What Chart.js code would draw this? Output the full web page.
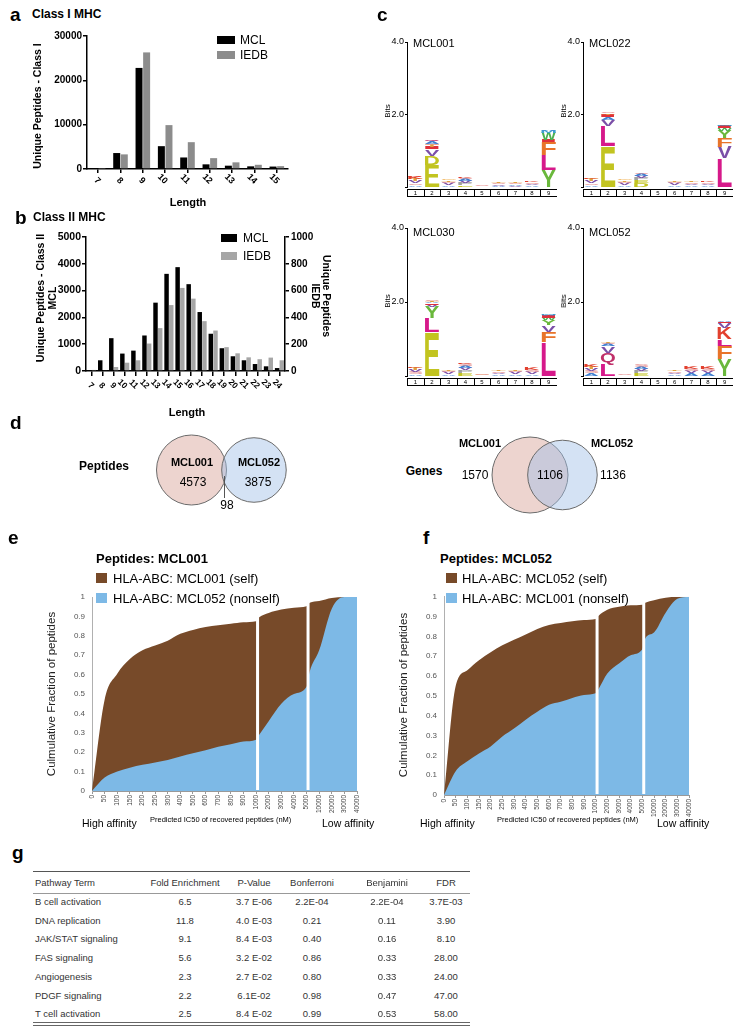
<!DOCTYPE html>
<html><head><meta charset="utf-8">
<script src="https://cdn.jsdelivr.net/npm/chart.js@4.4.0/dist/chart.umd.min.js"></script>
<style>
body{margin:0;background:#fff;}
#root{position:relative;width:743px;height:1030px;overflow:hidden;font-family:"Liberation Sans",Arial,Helvetica,sans-serif;color:#000;background:#fff;}
.t{position:absolute;white-space:nowrap;line-height:1;}
canvas{position:absolute;}
.bx{position:absolute;}
</style></head><body><div id="root"></div>
<script>
// ================= DATA =================
const lengthsI = ['7','8','9','10','11','12','13','14','15'];
const mclI  = [50, 3600, 22800, 5150, 2600, 1050, 750, 600, 550];
const iedbI = [100, 3300, 26300, 9900, 6050, 2450, 1500, 950, 650];

const lengthsII = ['7','8','9','10','11','12','13','14','15','16','17','18','19','20','21','22','23','24'];
const mclII  = [20, 400, 1225, 650, 760, 1325, 2550, 3625, 3875, 3240, 2200, 1390, 850, 550, 400, 260, 175, 110];
const iedbII = [8, 6, 30, 62, 80, 205, 320, 492, 620, 540, 372, 302, 178, 132, 102, 88, 100, 80];

const logoPositions = ['1','2','3','4','5','6','7','8','9'];
const logoMCL001 = [
  [['A',.06],['S',.05],['V',.06],['T',.05],['K',.05],['R',.04]],
  [['E',.62],['D',.24],['V',.18],['I',.07],['T',.05],['S',.04],['A',.05],['Q',.04]],
  [['A',.05],['V',.05],['S',.04],['T',.04],['G',.03]],
  [['E',.06],['P',.05],['V',.05],['A',.05],['S',.04],['K',.04]],
  [['G',.02],['S',.015]],
  [['A',.04],['V',.03],['S',.03],['T',.03]],
  [['V',.04],['A',.04],['S',.03],['T',.02]],
  [['A',.05],['V',.04],['S',.04],['K',.04]],
  [['Y',.46],['L',.42],['F',.37],['I',.05],['W',.2],['M',.05],['A',.03]]
];
const logoMCL022 = [
  [['A',.06],['S',.05],['V',.05],['T',.05],['K',.04]],
  [['E',1.12],['L',.56],['V',.18],['A',.08],['I',.05],['T',.04],['S',.03]],
  [['A',.05],['V',.05],['S',.04],['T',.04],['G',.03]],
  [['D',.1],['E',.08],['P',.07],['V',.06],['A',.05],['S',.04]],
  [['G',.02],['S',.01]],
  [['A',.05],['V',.05],['S',.04],['T',.04]],
  [['A',.05],['V',.04],['S',.04],['T',.03]],
  [['A',.05],['V',.04],['S',.04],['K',.03]],
  [['L',.8],['V',.3],['F',.25],['Y',.2],['W',.08],['I',.05],['M',.04]]
];
const logoMCL030 = [
  [['A',.06],['S',.05],['V',.05],['T',.05],['K',.04]],
  [['E',1.2],['L',.37],['Y',.3],['V',.06],['I',.04],['A',.04],['T',.03],['S',.03]],
  [['A',.05],['V',.05],['S',.04],['T',.04]],
  [['E',.08],['P',.07],['V',.07],['A',.06],['S',.05],['K',.04]],
  [['G',.03],['S',.02]],
  [['A',.05],['V',.04],['S',.04],['T',.03]],
  [['A',.05],['V',.05],['S',.04],['T',.03]],
  [['A',.06],['V',.06],['S',.05],['K',.05]],
  [['L',.92],['F',.28],['V',.17],['Y',.14],['W',.06],['I',.06],['A',.03],['M',.02]]
];
const logoMCL052 = [
  [['A',.07],['S',.06],['V',.06],['T',.06],['K',.05]],
  [['L',.32],['Q',.3],['V',.18],['A',.06],['S',.04],['T',.03]],
  [['A',.02],['S',.02],['G',.01]],
  [['E',.07],['P',.06],['V',.06],['A',.06],['S',.05]],
  [['G',.02],['S',.01]],
  [['A',.05],['V',.04],['S',.04],['T',.03]],
  [['A',.07],['V',.06],['S',.06],['K',.05]],
  [['A',.07],['V',.06],['S',.06],['K',.05]],
  [['Y',.46],['F',.36],['L',.18],['K',.3],['V',.13],['I',.04],['A',.03]]
];

const vennPepOnly = [4573, 3875];
const vennPepBoth = 98;
const vennGeneOnly = [1570, 1136];
const vennGeneBoth = 1106;

const icLabels = ['0','50','100','150','200','250','300','400','500','600','700','800','900','1000','2000','3000','4000','5000','10000','20000','30000','40000'];
const gapAfter = [13, 17];
const selfE     = [0, 0.47, 0.605, 0.68, 0.725, 0.75, 0.775, 0.81, 0.83, 0.845, 0.855, 0.862, 0.87, 0.875, 0.918, 0.935, 0.945, 0.952, 0.98, 0.995, 1, 1];
const selfEGap  = [0.895, 0.97];
const nonselfE  = [0, 0.069, 0.10, 0.12, 0.135, 0.147, 0.16, 0.178, 0.195, 0.21, 0.228, 0.241, 0.255, 0.264, 0.36, 0.45, 0.50, 0.537, 0.725, 0.94, 1, 1];
const nonselfEGap = [0.29, 0.615];
const selfF     = [0, 0.55, 0.63, 0.68, 0.72, 0.755, 0.783, 0.81, 0.838, 0.858, 0.868, 0.877, 0.883, 0.888, 0.935, 0.95, 0.957, 0.96, 0.983, 0.995, 1, 1];
const selfFGap  = [0.905, 0.97];
const nonselfF  = [0, 0.12, 0.17, 0.21, 0.245, 0.295, 0.335, 0.38, 0.42, 0.455, 0.47, 0.49, 0.505, 0.513, 0.613, 0.663, 0.705, 0.735, 0.82, 0.92, 0.99, 1];
const nonselfFGap = [0.535, 0.79];

const tableHeader = ['Pathway Term','Fold Enrichment','P-Value','Bonferroni','Benjamini','FDR'];
const pathwayTerms = ['B cell activation','DNA replication','JAK/STAT signaling','FAS signaling','Angiogenesis','PDGF signaling','T cell activation'];
const foldEnrichment = ['6.5','11.8','9.1','5.6','2.3','2.2','2.5'];
const pValues = ['3.7 E-06','4.0 E-03','8.4 E-03','3.2 E-02','2.7 E-02','6.1E-02','8.4 E-02'];
const bonferroni = ['2.2E-04','0.21','0.40','0.86','0.80','0.98','0.99'];
const benjamini = ['2.2E-04','0.11','0.16','0.33','0.33','0.47','0.53'];
const fdr = ['3.7E-03','3.90','8.10','28.00','24.00','47.00','58.00'];

// ================= HELPERS =================
const FONT = '"Liberation Sans", Arial, Helvetica, sans-serif';
Chart.defaults.font.family = FONT;
Chart.defaults.color = '#000';
const root = document.getElementById('root');
const plain = v => String(v);

function mkCanvas(left, top, w, h){
  const c = document.createElement('canvas');
  c.width = w; c.height = h;
  c.style.left = left+'px'; c.style.top = top+'px';
  c.style.width = w+'px'; c.style.height = h+'px';
  root.appendChild(c); return c;
}
function txt(s, x, y, o={}){
  const d = document.createElement('div');
  d.className = 't'; d.textContent = s;
  d.style.left = x+'px'; d.style.top = y+'px';
  d.style.fontSize = (o.size||12)+'px';
  if (o.bold) d.style.fontWeight = 'bold';
  if (o.color) d.style.color = o.color;
  const ax = o.align==='center' ? '-50%' : o.align==='right' ? '-100%' : '0';
  d.style.transform = `translate(${ax},-50%)` + (o.rot ? ` rotate(${o.rot}deg)` : '');
  root.appendChild(d); return d;
}
function box(x, y, w, h, color){
  const d = document.createElement('div');
  d.className = 'bx';
  Object.assign(d.style, {left:x+'px', top:y+'px', width:w+'px', height:h+'px', background:color});
  root.appendChild(d);
}
function base(extra){
  return Object.assign({responsive:false, animation:false, devicePixelRatio:1, events:[],
    plugins:{legend:{display:false}, tooltip:{enabled:false}}}, extra);
}
function diagLabels(dy, size){
  return {id:'diag', afterDraw(chart){
    const ctx = chart.ctx, xs = chart.scales.x, bottom = chart.chartArea.bottom;
    ctx.save();
    ctx.font = `bold ${size}px ${FONT}`; ctx.fillStyle = '#000';
    ctx.textAlign = 'right'; ctx.textBaseline = 'middle';
    chart.data.labels.forEach((lab, i) => {
      const x = xs.getPixelForTick(i);
      ctx.save(); ctx.translate(x + 1, bottom + dy); ctx.rotate(Math.PI/4);
      ctx.fillText(lab, 0, 0); ctx.restore();
    });
    ctx.restore();
  }};
}

// ================= PANEL A =================
new Chart(mkCanvas(0, 25, 370, 185), {
  type:'bar',
  data:{labels:lengthsI, datasets:[
    {data:mclI, backgroundColor:'#000', barPercentage:0.92, categoryPercentage:0.68},
    {data:iedbI, backgroundColor:'#8c8c8c', barPercentage:0.92, categoryPercentage:0.68}
  ]},
  options: base({layout:{padding:{top:11, right:82, left:0, bottom:0}},
    scales:{
      x:{ticks:{display:false}, grid:{offset:false, drawOnChartArea:false, tickLength:4, color:'#000', lineWidth:1.5}, border:{color:'#000', width:1.5}, afterFit:s=>{s.height=41;}},
      y:{min:0, max:30000, ticks:{stepSize:10000, padding:1, font:{size:10, weight:'bold'}, color:'#000', callback:plain}, grid:{drawOnChartArea:false, tickLength:4, color:'#000', lineWidth:1.5}, border:{color:'#000', width:1.5}, afterFit:s=>{s.width=87;}}
    }}),
  plugins:[diagLabels(13.5, 9)]
});

// ================= PANEL B =================
new Chart(mkCanvas(0, 215, 370, 200), {
  type:'bar',
  data:{labels:lengthsII, datasets:[
    {data:mclII, yAxisID:'y', backgroundColor:'#000', barPercentage:0.95, categoryPercentage:0.85},
    {data:iedbII, yAxisID:'y1', backgroundColor:'#a6a6a6', barPercentage:0.95, categoryPercentage:0.85}
  ]},
  options: base({layout:{padding:{top:22, right:0, left:0, bottom:0}},
    scales:{
      x:{ticks:{display:false}, grid:{offset:false, drawOnChartArea:false, tickLength:5, color:'#000', lineWidth:1.5}, border:{color:'#000', width:1.5}, afterFit:s=>{s.height=44;}},
      y:{position:'left', min:0, max:5000, ticks:{stepSize:1000, padding:1, font:{size:10.5, weight:'bold'}, color:'#000', callback:plain}, grid:{drawOnChartArea:false, tickLength:4, color:'#000', lineWidth:1.5}, border:{color:'#000', width:1.5}, afterFit:s=>{s.width=86;}},
      y1:{position:'right', min:0, max:1000, ticks:{stepSize:200, padding:2, font:{size:10, weight:'bold'}, color:'#000', callback:plain}, grid:{drawOnChartArea:false, tickLength:4, color:'#000', lineWidth:1.5}, border:{color:'#000', width:1.5}, afterFit:s=>{s.width=85;}}
    }}),
  plugins:[diagLabels(16.5, 8.5)]
});

// ================= PANEL C (logos) =================
const aaColors = {A:'#3f7fd0', V:'#7b4fa8', I:'#e0303a', L:'#d6198a', M:'#3fa0d0', F:'#e8742a', W:'#4cb050', Y:'#6ab83c',
  E:'#c2c420', D:'#c2c420', K:'#e2402e', R:'#e2402e', S:'#e89a9a', T:'#e0a040', P:'#a0a0a0', Q:'#c0306a', G:'#f0b050', N:'#b06090', H:'#5060c0', C:'#e0c020'};
function drawLetter(ctx, ch, left, top, w, h, color){
  ctx.save();
  ctx.font = `bold 100px ${FONT}`;
  const m = ctx.measureText(ch);
  const gw = m.actualBoundingBoxLeft + m.actualBoundingBoxRight;
  const gh = m.actualBoundingBoxAscent + m.actualBoundingBoxDescent;
  ctx.translate(left, top);
  ctx.scale(w/gw, h/gh);
  ctx.fillStyle = color;
  ctx.textAlign = 'left'; ctx.textBaseline = 'alphabetic';
  ctx.fillText(ch, m.actualBoundingBoxLeft, m.actualBoundingBoxAscent);
  ctx.restore();
}
const letterPlugin = {id:'letters', afterDatasetsDraw(chart){
  const ctx = chart.ctx;
  chart.data.datasets.forEach((ds, di) => {
    chart.getDatasetMeta(di).data.forEach((bar, i) => {
      const ch = ds.letters[i]; if (!ch) return;
      const h = bar.base - bar.y; if (h < 0.3) return;
      drawLetter(ctx, ch, bar.x - bar.width/2, bar.y, bar.width, h, aaColors[ch] || '#888');
    });
  });
}};
const posBoxPlugin = {id:'posbox', afterDraw(chart){
  const {ctx, chartArea:ca, scales:{x}} = chart;
  const top = Math.round(ca.bottom) + 2, h = 7;
  ctx.save(); ctx.strokeStyle = '#000'; ctx.lineWidth = 1;
  ctx.strokeRect(Math.round(ca.left)+0.5, top+0.5, Math.round(ca.right-ca.left), h);
  ctx.font = `6px ${FONT}`; ctx.fillStyle = '#000'; ctx.textAlign = 'center'; ctx.textBaseline = 'middle';
  const n = chart.data.labels.length;
  for (let i = 0; i < n; i++){
    const cx = x.getPixelForValue(i);
    if (i > 0){
      const bx = Math.round((x.getPixelForValue(i-1)+cx)/2)+0.5;
      ctx.beginPath(); ctx.moveTo(bx, top); ctx.lineTo(bx, top+h); ctx.stroke();
    }
    ctx.fillText(chart.data.labels[i], cx, top + h/2 + 1);
  }
  ctx.restore();
}};
function logoDatasets(stacks){
  const layers = Math.max(...stacks.map(s => s.length));
  const ds = [];
  for (let k = 0; k < layers; k++){
    ds.push({data: stacks.map(s => s[k] ? s[k][1] : 0), letters: stacks.map(s => s[k] ? s[k][0] : null),
      backgroundColor:'rgba(0,0,0,0)', borderWidth:0, barPercentage:0.9, categoryPercentage:0.95, stack:'logo'});
  }
  return ds;
}
function makeLogo(stacks, areaLeft, areaTop, areaH){
  const w = 182, padTop = 17, padBottom = 14;
  new Chart(mkCanvas(areaLeft - 32, areaTop - padTop, w, padTop + areaH + padBottom), {
    type:'bar',
    data:{labels:logoPositions, datasets:logoDatasets(stacks)},
    options: base({layout:{padding:{top:padTop, bottom:padBottom, right:w - 32 - 150, left:0}},
      scales:{
        x:{display:false, stacked:true},
        y:{stacked:true, min:0, max:4, ticks:{stepSize:2, padding:1, font:{size:9}, color:'#000', callback:v => v === 0 ? '' : v.toFixed(1)},
           grid:{drawOnChartArea:false, tickLength:2, color:'#000'}, border:{color:'#000', width:1}, afterFit:s=>{s.width=32;}}
      }}),
    plugins:[letterPlugin, posBoxPlugin]
  });
}
makeLogo(logoMCL001, 407, 42, 145);
makeLogo(logoMCL022, 583, 42, 145);
makeLogo(logoMCL030, 407, 228, 148);
makeLogo(logoMCL052, 583, 228, 148);

// ================= PANEL D (Venn) =================
function lensArea(r1, r2, d){
  if (d >= r1 + r2) return 0;
  if (d <= Math.abs(r1 - r2)) return Math.PI * Math.min(r1, r2) ** 2;
  const a = r1*r1*Math.acos((d*d + r1*r1 - r2*r2)/(2*d*r1));
  const b = r2*r2*Math.acos((d*d + r2*r2 - r1*r1)/(2*d*r2));
  const c = 0.5*Math.sqrt((-d+r1+r2)*(d+r1-r2)*(d-r1+r2)*(d+r1+r2));
  return a + b - c;
}
function solveD(r1, r2, target){
  let lo = Math.abs(r1 - r2), hi = r1 + r2;
  for (let i = 0; i < 60; i++){ const mid = (lo+hi)/2; if (lensArea(r1, r2, mid) > target) lo = mid; else hi = mid; }
  return (lo + hi)/2;
}
function venn(left, top, w, h, cx, cy, rLeft, only, both, extra){
  const t1 = only[0] + both, t2 = only[1] + both;
  const k = rLeft / Math.sqrt(t1);
  const r1 = rLeft, r2 = k * Math.sqrt(t2);
  const d = solveD(r1, r2, k*k*Math.PI*both);
  return new Chart(mkCanvas(left, top, w, h), {
    type:'bubble',
    data:{datasets:[
      {data:[{x:cx + d, y:cy, r:r2}], backgroundColor:'rgba(160,190,230,0.45)', borderColor:'#6a6a6a', borderWidth:1, clip:false},
      {data:[{x:cx, y:cy, r:r1}], backgroundColor:'rgba(220,170,160,0.5)', borderColor:'#6a6a6a', borderWidth:1, clip:false}
    ]},
    options: base({layout:{padding:0, autoPadding:false}, scales:{
      x:{type:'linear', min:0, max:w, display:false},
      y:{type:'linear', min:0, max:h, reverse:true, display:false}}}),
    plugins: extra ? [extra(cx + (d*d + r1*r1 - r2*r2)/(2*d), cy)] : []
  });
}
const leader = (lx, cy) => ({id:'leader', afterDraw(chart){
  const ctx = chart.ctx, x = chart.scales.x.getPixelForValue(lx), y = chart.scales.y.getPixelForValue(cy);
  ctx.save(); ctx.strokeStyle = '#555'; ctx.lineWidth = 1;
  ctx.beginPath(); ctx.moveTo(Math.round(x)+0.5, y + 6); ctx.lineTo(Math.round(x)+0.5, y + 28); ctx.stroke(); ctx.restore();
}});
venn(140, 425, 170, 95, 51.5, 45, 35, vennPepOnly, vennPepBoth, leader);
venn(480, 425, 140, 100, 50, 50, 38, vennGeneOnly, vennGeneBoth, null);

// ================= PANELS E / F =================
function pts(vals, gapVals){
  const out = [];
  vals.forEach((v, i) => {
    out.push({x:i, y:v});
    const g = gapAfter.indexOf(i);
    if (g >= 0) out.push({x:i + 0.25, y:gapVals[g]});
  });
  return out;
}
const gapPlugin = {id:'gaps', afterDatasetsDraw(chart){
  const {ctx, chartArea:ca, scales:{x}} = chart;
  ctx.save(); ctx.fillStyle = '#fff';
  gapAfter.forEach(i => { const px = x.getPixelForValue(i + 0.12); ctx.fillRect(px - 1.5, ca.top - 2, 3, ca.bottom - ca.top + 1); });
  ctx.restore();
}};
function fracChart(left, top, w, h, yW, padTop, padRight, xH, selfV, selfG, nonV, nonG){
  new Chart(mkCanvas(left, top, w, h), {
    type:'line',
    data:{datasets:[
      {data:pts(nonV, nonG), backgroundColor:'#7db9e6', borderColor:'rgba(0,0,0,0)', borderWidth:0, pointRadius:0, fill:'origin', cubicInterpolationMode:'monotone'},
      {data:pts(selfV, selfG), backgroundColor:'#774a29', borderColor:'rgba(0,0,0,0)', borderWidth:0, pointRadius:0, fill:'origin', cubicInterpolationMode:'monotone'}
    ]},
    options: base({layout:{padding:{top:padTop, right:padRight, left:0, bottom:0}},
      scales:{
        x:{type:'linear', min:0, max:icLabels.length - 1,
           ticks:{stepSize:1, autoSkip:false, minRotation:90, maxRotation:90, callback:v => icLabels[v] ?? '', font:{size:6.5}, color:'#444', padding:1},
           grid:{drawOnChartArea:false, tickLength:3, color:'#999'}, border:{color:'#999'}, afterFit:s=>{s.height=xH;}},
        y:{min:0, max:1, ticks:{stepSize:0.1, callback:v => v === 0 ? '0' : v === 1 ? '1' : v.toFixed(1), font:{size:8}, color:'#555', padding:7},
           grid:{drawOnChartArea:false, drawTicks:false}, border:{color:'#b0b0b0'}, afterFit:s=>{s.width=yW;}}
      }}),
    plugins:[gapPlugin]
  });
}
fracChart(0, 585, 370, 245, 92, 12, 13, 39, selfE, selfEGap, nonselfE, nonselfEGap);
fracChart(370, 585, 373, 245, 74, 10, 54, 35, selfF, selfFGap, nonselfF, nonselfFGap);

// ================= TEXT OVERLAYS =================
// panel a
txt('a', 10, 14, {size:19, bold:true});
txt('Class I MHC', 32, 14, {size:12, bold:true});
txt('Unique Peptides - Class I', 37, 106, {size:10.5, bold:true, align:'center', rot:-90});
box(217, 36, 18, 8, '#000'); txt('MCL', 240, 40, {size:12});
box(217, 51, 18, 8, '#8c8c8c'); txt('IEDB', 240, 55, {size:12});
txt('Length', 188, 202, {size:11, bold:true, align:'center'});
// panel b
txt('b', 15, 217, {size:19, bold:true});
txt('Class II MHC', 33, 217, {size:12, bold:true});
txt('Unique Peptides - Class II', 40, 298, {size:10.5, bold:true, align:'center', rot:-90});
txt('MCL', 52, 298, {size:10.5, bold:true, align:'center', rot:-90});
txt('Unique Peptides', 327, 296, {size:10.5, bold:true, align:'center', rot:90});
txt('IEDB', 316, 296, {size:10.5, bold:true, align:'center', rot:90});
box(221, 234, 16, 8, '#000'); txt('MCL', 243, 238, {size:12});
box(221, 252, 16, 8, '#a6a6a6'); txt('IEDB', 243, 256, {size:12});
txt('Length', 187, 412, {size:11, bold:true, align:'center'});
// panel c
txt('c', 377, 14, {size:19, bold:true});
[['MCL001',413,43],['MCL022',589,43],['MCL030',413,232],['MCL052',589,232]].forEach(a => txt(a[0], a[1], a[2], {size:11}));
[[388,111],[564,111],[388,301],[564,301]].forEach(a => txt('Bits', a[0], a[1], {size:8, align:'center', rot:-90}));
// panel d
txt('d', 10, 422, {size:19, bold:true});
txt('Peptides', 104, 466, {size:12, bold:true, align:'center'});
txt('MCL001', 192, 462, {size:11, bold:true, align:'center'});
txt(String(vennPepOnly[0]), 193, 482, {size:12, align:'center'});
txt('MCL052', 259, 462, {size:11, bold:true, align:'center'});
txt(String(vennPepOnly[1]), 258, 482, {size:12, align:'center'});
txt(String(vennPepBoth), 227, 505, {size:12, align:'center'});
txt('Genes', 424, 471, {size:12, bold:true, align:'center'});
txt('MCL001', 480, 443, {size:11, bold:true, align:'center'});
txt('MCL052', 612, 443, {size:11, bold:true, align:'center'});
txt(String(vennGeneOnly[0]), 475, 475, {size:12, align:'center'});
txt(String(vennGeneBoth), 550, 475, {size:12, align:'center'});
txt(String(vennGeneOnly[1]), 613, 475, {size:12, align:'center'});
// panel e
txt('e', 8, 537, {size:19, bold:true});
txt('Peptides: MCL001', 96, 558, {size:13, bold:true});
box(96, 573, 11, 10, '#774a29'); txt('HLA-ABC: MCL001 (self)', 113, 578, {size:13});
box(96, 593, 11, 10, '#7db9e6'); txt('HLA-ABC: MCL052 (nonself)', 113, 598, {size:13});
txt('Culmulative Fraction of peptides', 52, 694, {size:11.5, align:'center', rot:-90, color:'#222'});
txt('High affinity', 82, 823, {size:10.5});
txt('Predicted IC50 of recovered peptides (nM)', 150, 820, {size:7.5});
txt('Low affinity', 322, 823, {size:10.5});
// panel f
txt('f', 423, 537, {size:19, bold:true});
txt('Peptides: MCL052', 440, 558, {size:13, bold:true});
box(446, 573, 11, 10, '#774a29'); txt('HLA-ABC: MCL052 (self)', 462, 578, {size:13});
box(446, 593, 11, 10, '#7db9e6'); txt('HLA-ABC: MCL001 (nonself)', 462, 598, {size:13});
txt('Culmulative Fraction of peptides', 404, 695, {size:11.5, align:'center', rot:-90, color:'#222'});
txt('High affinity', 420, 823, {size:10.5});
txt('Predicted IC50 of recovered peptides (nM)', 497, 820, {size:7.5});
txt('Low affinity', 657, 823, {size:10.5});
// panel g
txt('g', 12, 852, {size:19, bold:true});
box(33, 871, 437, 1, '#555');
box(33, 893, 437, 1, '#999');
box(33, 1022, 437, 1, '#666');
box(33, 1025, 437, 1, '#666');
const colX = [35, 185, 254, 312, 387, 446];
const cols = [pathwayTerms, foldEnrichment, pValues, bonferroni, benjamini, fdr];
tableHeader.forEach((h, j) => txt(h, colX[j], 883, {size:9.5, align: j === 0 ? 'left' : 'center', color:'#333'}));
pathwayTerms.forEach((_, i) => {
  cols.forEach((col, j) => txt(col[i], colX[j], 902 + i*18.7, {size:9.5, align: j === 0 ? 'left' : 'center', color:'#333'}));
});
</script></body></html>
